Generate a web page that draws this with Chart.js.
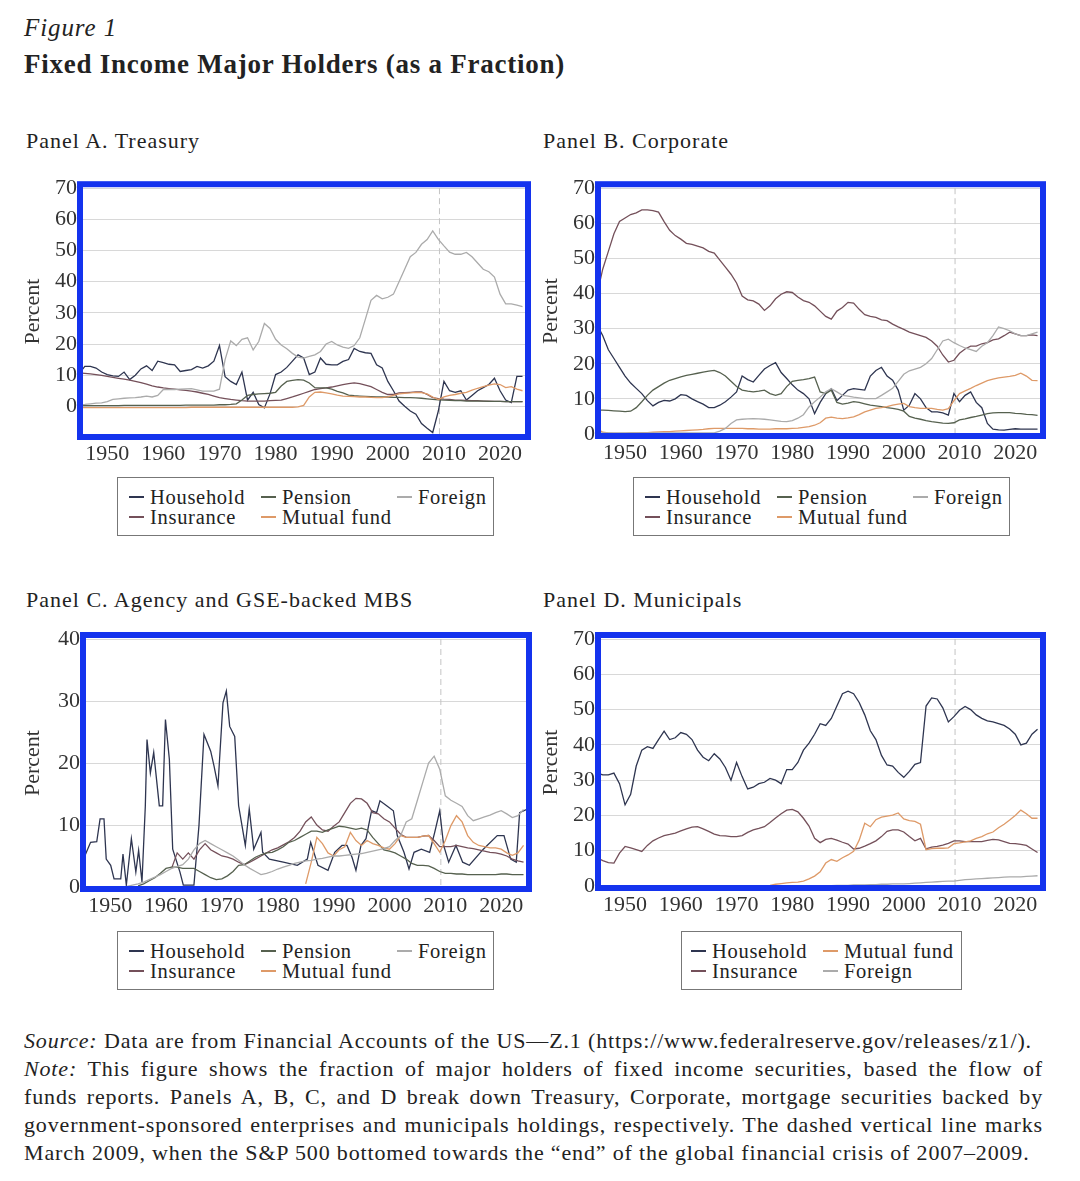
<!DOCTYPE html>
<html>
<head>
<meta charset="utf-8">
<title>Fixed Income Major Holders</title>
<script src="https://cdn.jsdelivr.net/npm/chart.js@4.4.1/dist/chart.umd.min.js"></script>
<style>
    html, body { margin: 0; padding: 0; background: #fff; }
    body {
        width: 1080px; height: 1181px; position: relative; overflow: hidden;
        font-family: 'Liberation Serif', 'DejaVu Serif', serif; color: #222;
    }
    .abs { position: absolute; white-space: nowrap; }
    .fig { left: 24px; top: 14px; font-style: italic; font-size: 25px; line-height: 28px; letter-spacing: 0.9px; }
    .ftitle { left: 24px; top: 49px; font-weight: bold; font-size: 27px; line-height: 30px; letter-spacing: 0.75px; }
    .ptitle { font-size: 22px; line-height: 26px; letter-spacing: 1px; }
    .legend {
        border: 1.5px solid #777; box-sizing: border-box; padding-top: 9px;
        display: grid; grid-auto-rows: 20px; font-size: 20.5px; line-height: 20px; letter-spacing: 0.7px;
    }
    .legend div { height: 20px; line-height: 20px; }
    .legend .sw { display: inline-block; width: 15px; height: 2px; margin-right: 6px; vertical-align: 6px; }
    .note { left: 24px; top: 1027px; width: 1019px; font-size: 22px; line-height: 28px; letter-spacing: 0.85px; }
    .note div { white-space: nowrap; }
    .note .j { text-align: justify; text-align-last: justify; }
</style>
</head>
<body>

<div class="abs fig">Figure 1</div>
<div class="abs ftitle">Fixed Income Major Holders (as a Fraction)</div>

<div class="abs ptitle" style="left:26px; top:128px;">Panel A. Treasury</div>
<div class="abs ptitle" style="left:543px; top:128px;">Panel B. Corporate</div>
<div class="abs ptitle" style="left:26px; top:587px;">Panel C. Agency and GSE-backed MBS</div>
<div class="abs ptitle" style="left:543px; top:587px;">Panel D. Municipals</div>

<canvas class="abs" id="chartA" width="540" height="300" style="left:0; top:170px;"></canvas>
<canvas class="abs" id="chartB" width="550" height="300" style="left:530px; top:170px;"></canvas>
<canvas class="abs" id="chartC" width="540" height="300" style="left:0; top:620px;"></canvas>
<canvas class="abs" id="chartD" width="550" height="300" style="left:530px; top:620px;"></canvas>

<div class="abs legend" id="legendA" style="left:117px; top:477px; width:377px; height:59px;"></div>
<div class="abs legend" id="legendB" style="left:633px; top:477px; width:377px; height:59px;"></div>
<div class="abs legend" id="legendC" style="left:117px; top:931px; width:377px; height:59px;"></div>
<div class="abs legend" id="legendD" style="left:681px; top:931px; width:281px; height:59px;"></div>

<div class="abs note">
    <div><i>Source:</i> Data are from Financial Accounts of the US—Z.1 (https://www.federalreserve.gov/releases/z1/).</div>
    <div class="j"><i>Note:</i> This figure shows the fraction of major holders of fixed income securities, based the flow of</div>
    <div class="j">funds reports. Panels A, B, C, and D break down Treasury, Corporate, mortgage securities backed by</div>
    <div class="j">government-sponsored enterprises and municipals holdings, respectively. The dashed vertical line marks</div>
    <div>March 2009, when the S&amp;P 500 bottomed towards the “end” of the global financial crisis of 2007–2009.</div>
</div>

<script>
// x axis
const yearTicks = [1950, 1960, 1970, 1980, 1990, 2000, 2010, 2020];
const crisisYear = 2009.2; // March 2009

// --- Panel A. Treasury (annual, 1945-2024) ---
const treasuryHousehold = [
    10.5, 12.8, 12.8, 12.3, 11,
    10.2, 9.8, 9.6, 11, 8.6, 10, 12, 13, 11.5, 14.5,
    14, 13.5, 13.3, 11.2, 11.5, 11.8, 12.8, 12.3, 13, 14.5,
    19.5, 9.5, 8, 7, 11, 2, 4.5, 0.6, -0.5, 4,
    10.2, 11, 12.5, 14.5, 16.5, 15.5, 10.2, 11, 15.5, 13.5,
    13.3, 13.3, 14.4, 15, 18.6, 17.6, 17.2, 17, 13.3, 12.3,
    8, 5, 1.7, 0, -1.5, -2.5, -5.5, -7, -8.4, -1.5,
    8, 5, 4.5, 5, 2, 3.5, 5, 6, 7, 9,
    5, 2, 1.2, 9.6, 9.6
];
const treasuryInsurance = [
    10.7, 10.6, 10.4, 10.2, 9.9,
    9.6, 9.3, 9, 8.7, 8.4, 8, 7.6, 7.1, 6.6, 6.2,
    5.9, 5.7, 5.5, 5.3, 5.1, 4.9, 4.6, 4.2, 3.8, 3.3,
    2.8, 2.5, 2.2, 2, 1.8, 1.7, 1.7, 1.7, 1.7, 1.8,
    1.9, 2, 2.5, 3, 3.6, 4.2, 4.8, 5.4, 5.7, 5.9,
    6.2, 6.6, 7, 7.3, 7.5, 7.3, 6.8, 6.3, 5.4, 4.5,
    3.8, 3.8, 4.3, 4.4, 4.5, 4.6, 4.6, 3.8, 2.8, 2.5,
    2.3, 2.2, 2, 2, 1.9, 1.8, 1.8, 1.7, 1.7, 1.6,
    1.6, 1.5, 1.5, 1.5, 1.5
];
const treasuryPension = [
    0.2, 0.2, 0.2, 0.2, 0.2,
    0.2, 0.2, 0.2, 0.3, 0.3, 0.3, 0.3, 0.3, 0.3, 0.3,
    0.3, 0.3, 0.3, 0.3, 0.4, 0.4, 0.4, 0.4, 0.4, 0.4,
    0.5, 0.5, 0.6, 0.8, 2, 3.5, 3.8, 4, 4.1, 4.2,
    4.5, 6.5, 8, 8.3, 8.6, 8.4, 7.5, 6, 5.9, 5.9,
    5.5, 4.8, 4.3, 3.6, 3.4, 3.3, 3.2, 3.1, 3, 3,
    3, 2.9, 2.9, 2.8, 2.8, 2.7, 2.6, 2.4, 2.2, 2.1,
    2, 1.9, 1.8, 1.8, 1.7, 1.7, 1.7, 1.7, 1.6, 1.6,
    1.6, 1.5, 1.5, 1.5, 1.5
];
const treasuryMutualFund = [
    -0.4, -0.4, -0.4, -0.4, -0.4,
    -0.4, -0.4, -0.4, -0.4, -0.4, -0.4, -0.4, -0.4, -0.4, -0.4,
    -0.4, -0.4, -0.4, -0.4, -0.4, -0.3, -0.3, -0.3, -0.3, -0.3,
    -0.3, -0.3, -0.3, -0.3, -0.3, -0.3, -0.3, -0.3, -0.3, -0.3,
    -0.3, -0.3, -0.3, -0.3, -0.2, 0.3, 3, 4.5, 4.6, 4.3,
    4, 3.6, 3.3, 3.2, 3.1, 3, 3, 2.9, 2.8, 2.8,
    3, 3.5, 4, 4.2, 4.3, 4.5, 4.4, 4, 3, 2.2,
    3, 3.5, 3.8, 4.2, 4.5, 5.2, 5.8, 6.3, 6.8, 7.2,
    7, 6, 6.3, 5.5, 5
];
const treasuryForeign = [
    0.5, 0.6, 0.8, 1, 1.1,
    1.5, 2.2, 2.4, 2.6, 2.7, 2.8, 3, 3.3, 3, 3.5,
    5.4, 5.4, 5.4, 5.5, 5.6, 5.7, 5.3, 4.9, 4.9, 4.9,
    5.5, 15, 21, 19.5, 21.5, 22, 18.1, 20.8, 26.6, 25,
    21.5, 19.7, 18.5, 17, 15.8, 15.5, 16, 16.5, 17.6, 20,
    20.8, 19.7, 19, 18.6, 19.5, 22, 28, 34, 35.6, 34.5,
    35, 36, 40, 44, 48, 49.4, 52, 53.5, 56.3, 53.6,
    51.5, 49.5, 48.8, 48.8, 49.4, 48, 46, 44, 43.2, 41.5,
    36, 32.9, 32.9, 32.5, 32
];

// --- Panel B. Corporate (annual, 1945-2024) ---
const corporateHousehold = [
    31, 28, 24, 21.5, 19,
    16.5, 14.5, 13, 11.5, 9.5, 8, 9, 9.6, 9.4, 10,
    11.2, 11, 10, 9.2, 8.5, 7.5, 7.5, 8.2, 9.2, 10.5,
    12, 16.5, 15.5, 14.8, 16.7, 18.5, 19.5, 20.3, 17.5, 15.8,
    14, 12.5, 11.5, 10, 5.8, 9, 11.5, 12.9, 9.5, 11,
    12.5, 12.9, 12.7, 12.5, 16.5, 18.1, 19, 16.5, 15.3, 12.5,
    6.8, 8.2, 11.5, 10, 7.5, 6.3, 6.3, 6, 5.4, 11.5,
    9.2, 11, 12, 9, 7.5, 3, 1.4, 1.2, 1.1, 1.3,
    1.5, 1.4, 1.4, 1.4, 1.4
];
const corporateInsurance = [
    40, 47, 52, 57, 60.5,
    61.5, 62.5, 63, 63.8, 63.8, 63.6, 63.2, 60.5, 58, 56.5,
    55.5, 54.3, 54, 53.5, 53, 52, 51.5, 49.5, 47.5, 45.5,
    43, 39.3, 38.2, 37.9, 37, 35.2, 36.5, 38.5, 39.8, 40.5,
    40.3, 39, 38, 37.5, 36.5, 35, 33.5, 32.7, 35, 36,
    37.5, 37.3, 35.5, 34, 33.5, 33.2, 32.5, 32.3, 31.3, 30.5,
    29.8, 29, 28.5, 28, 27.5, 26.5, 25, 22.5, 20.5, 21,
    23, 24.2, 25, 25, 25.7, 26, 26.8, 27.1, 28, 29,
    28.5, 28, 28, 28.2, 28
];
const corporatePension = [
    6.8, 6.8, 6.7, 6.6, 6.5,
    6.4, 6.5, 7.5, 9.2, 11, 12.5, 13.5, 14.5, 15.3, 15.8,
    16.3, 16.7, 17, 17.3, 17.6, 17.9, 18.1, 17.5, 16.5, 15,
    13.5, 12.5, 12.2, 12, 12.2, 12.5, 11.5, 11, 11.5, 13.5,
    15, 15.3, 15.5, 15.8, 16.2, 12, 11.5, 12.5, 9, 8.5,
    8.8, 9.2, 9, 8.6, 8.2, 8, 7.8, 7.5, 7.3, 7,
    6.5, 5, 4.5, 4.2, 3.8, 3.5, 3.3, 3.1, 3, 3.2,
    4, 4.3, 4.7, 5, 5.4, 5.8, 6, 6.1, 6.1, 6.1,
    5.9, 5.8, 5.6, 5.5, 5.3
];
const corporateMutualFund = [
    1.5, 0.5, 0.3, 0.2, 0.2,
    0.2, 0.3, 0.3, 0.4, 0.4, 0.5, 0.6, 0.7, 0.7, 0.8,
    0.9, 1, 1.1, 1.2, 1.3, 1.5, 1.6, 1.6, 1.6, 1.6,
    1.6, 1.6, 1.5, 1.5, 1.4, 1.4, 1.4, 1.5, 1.5, 1.5,
    1.6, 1.7, 1.9, 2.1, 2.5, 3.2, 4.5, 4.8, 4.5, 4.4,
    4.6, 4.9, 5.5, 6.3, 6.8, 7.3, 7.5, 7.8, 8.2, 8.5,
    8.7, 7.8, 7.5, 7.3, 7.3, 7.3, 7, 6.8, 7.2, 9.5,
    11.5, 12.3, 13, 13.8, 14.5, 15.2, 15.6, 16, 16.2, 16.4,
    16.7, 17.3, 16.5, 15.3, 15.2
];
const corporateForeign = [
    0.3, 0.3, 0.3, 0.3, 0.3,
    0.3, 0.3, 0.3, 0.3, 0.3, 0.3, 0.3, 0.3, 0.3, 0.3,
    0.3, 0.3, 0.3, 0.3, 0.3, 0.3, 0.3, 0.8, 1.6, 3,
    4, 4.2, 4.3, 4.4, 4.3, 4.2, 4, 3.8, 3.6, 3.5,
    3.8, 4.5, 5.5, 7.7, 9.2, 10.5, 12, 12.9, 12, 11,
    10.8, 10.5, 10.3, 10.1, 10.1, 10.1, 11, 12, 13, 15,
    17, 18, 18.5, 19, 20, 21.5, 24, 26.5, 27, 26,
    25.2, 24.5, 24, 23.5, 25, 26, 28, 30.5, 30, 29.4,
    28.5, 28, 28, 28.5, 29
];

// --- Panel C. Agency and GSE-backed MBS ---
// household is spiky, so it gets its own (irregular) dates
const mbsHouseholdYears = [
    1945.5, 1946.5, 1947.6, 1948.2, 1948.9, 1949.3, 1950.1, 1950.7, 1951.9, 1952.3,
    1952.9, 1953.8, 1954.6, 1955.1, 1955.7, 1956.3, 1956.6, 1957.2, 1957.8, 1958.8,
    1959.4, 1959.9, 1960.6, 1961.2, 1962.5, 1963.1, 1965.0, 1965.9, 1966.8, 1968.0,
    1968.6, 1969.3, 1970.2, 1970.8, 1971.4, 1972.3, 1973.0, 1974.2, 1974.9, 1975.7,
    1977.0, 1977.3, 1978.5, 1981.0, 1983.5, 1985.3, 1985.9, 1987.2, 1989.0, 1990.2,
    1991.5, 1992.4, 1993.3, 1994.0, 1994.9, 1995.8, 1996.8, 1997.7, 1998.3, 1999.5,
    2000.7, 2001.4, 2002.6, 2003.5, 2004.4, 2005.7, 2007.2, 2008.1, 2009.0, 2009.7,
    2010.6, 2011.9, 2013.1, 2014.3, 2016.8, 2019.3, 2020.5, 2021.7, 2022.7, 2023.3,
    2024.8
];
const mbsHousehold = [
    5.1, 7.2, 7.3, 11, 11, 4.5, 3.5, 1.3, 1.3, 5.3,
    0.3, 7.8, 2.4, 5.9, 0.8, 13.1, 23.8, 18.4, 21.7, 13.1,
    13.1, 27, 20.6, 6.1, 2.4, 0.3, 0.3, 9.9, 24.6, 21.9,
    19.5, 16.3, 29.7, 31.6, 25.9, 24.3, 13.1, 6.7, 12.6, 6.1,
    8.8, 5.6, 4.5, 4, 3.5, 4.5, 7.2, 3.5, 2.7, 5.6,
    6.7, 6.7, 4.8, 2.7, 6.7, 7.8, 12.3, 12, 13.9, 13.1,
    12.3, 8.3, 5.6, 2.9, 5.6, 6.1, 5.6, 8.8, 12.3, 6.7,
    4, 6.7, 4, 3.5, 6.1, 8.3, 8.3, 4.5, 4, 12,
    12.6
];
const mbsPensionStart = 1955;
const mbsPension = [
    0.2, 0.5, 1, 1.5, 2.2,
    3, 3.2, 3.2, 3, 3, 3, 2.5, 2, 1.5, 1.2,
    1.3, 1.8, 2.5, 3.5, 3.6, 4.2, 4.8, 5.2, 5.5, 5.6,
    6, 6.5, 7.2, 7.5, 8, 8.5, 9, 9, 8.8, 9.2,
    9.5, 9.8, 9.7, 9.5, 9.3, 9.5, 9.2, 8, 7, 6,
    5.8, 5.5, 5, 4.5, 3.8, 3.5, 3.5, 3.4, 3, 2.5,
    2.2, 2.2, 2.1, 2.1, 2, 2, 2, 2, 2, 2,
    2.1, 2.1, 2, 2, 2
];
const mbsInsuranceStart = 1961;
const mbsInsurance = [
    3, 5.5, 4.5, 5.5, 4.5, 6, 7, 6, 5.5,
    5, 4.8, 4.5, 4, 3.6, 4, 4.5, 5, 5.5, 6,
    6.3, 6.8, 7.3, 8, 9, 10.5, 11.3, 10, 9.2, 9,
    9.8, 10.5, 12, 13.5, 14.3, 14.2, 13.5, 12, 11.8, 11,
    10.5, 9.5, 8.5, 8, 8, 8, 8.2, 8.3, 7.5, 6.5,
    6.5, 6.5, 6.7, 6.5, 6.3, 6.2, 6, 5.8, 5.6, 5.5,
    5.3, 5, 4.5, 4.2, 4
];
const mbsMutualFundStart = 1985;
const mbsMutualFund = [
    0.5, 4, 8, 7, 5.5,
    5, 6, 6.5, 8.8, 7.5, 6.7, 7.5, 7, 6.7, 6.3,
    6.1, 7, 8.3, 8, 8, 8, 8.2, 8.3, 7, 5.6,
    7.5, 9.9, 11.5, 10.5, 8.3, 7.2, 6.7, 6.5, 6.3, 6.3,
    6.1, 5.5, 5.1, 5.5, 6.7
];
const mbsForeignStart = 1953;
const mbsForeign = [
    0.1, 0.3, 0.5, 0.8, 1.2, 1.6, 2,
    2.5, 3, 3.3, 3.6, 4.5, 6, 7, 7.5, 7, 6.5,
    6, 5.5, 5, 4.3, 3.6, 3, 2.5, 2, 2.2, 2.5,
    2.9, 3.2, 3.5, 3.8, 4, 4.2, 4.3, 4.5, 4.6, 4.8,
    5, 5, 5.1, 5.2, 5.3, 5.4, 5.6, 5.8, 6, 6.2,
    6.5, 7.5, 8.3, 10.5, 11, 14, 17, 20, 21.1, 19,
    14.7, 14, 13.5, 13, 11.5, 10.7, 11, 11.3, 11.6, 12,
    12.3, 11.8, 11.2, 11.5, 12.5
];

// --- Panel D. Municipals ---
const muniHousehold = [
    32, 31.5, 31.5, 32, 29,
    23, 26, 34, 38.5, 39.5, 39, 41.5, 43.9, 41.5, 42,
    43.5, 43, 41.5, 38.5, 36.5, 35.5, 37.5, 36, 33.6, 30,
    35, 31, 27.5, 28, 29, 29.4, 30.5, 30, 29, 33,
    33, 35, 38.5, 40.5, 43, 46, 45.5, 47.5, 51, 54.5,
    55.2, 54.5, 52, 48.5, 44, 41.5, 37, 34.3, 34, 32.2,
    30.8, 32.5, 34.5, 35, 51, 53.3, 53, 50.5, 46.5, 48,
    49.8, 50.9, 50, 48.5, 47.5, 46.8, 46.5, 46, 45.5, 44.5,
    43, 40, 40.5, 43, 44.4
];
const muniInsurance = [
    8, 7.2, 6.6, 6.5, 9.3,
    11.2, 10.8, 10.3, 9.8, 11.5, 12.8, 13.6, 14.3, 14.6, 15,
    15.6, 16.2, 16.7, 16.8, 16.2, 15.5, 14.7, 14.3, 14.2, 14,
    14, 14.3, 15.2, 15.9, 16.3, 16.8, 18, 19.3, 20.5, 21.5,
    21.7, 21, 19.2, 17, 13.5, 12.3, 13.2, 13.5, 13, 12.4,
    11.9, 10.5, 10.7, 11.3, 12, 12.8, 14, 15.5, 15.9, 15.9,
    15.3, 14, 12.8, 13.5, 10.5, 11, 11.2, 11.6, 12.1, 12.8,
    12.8, 12.6, 12.6, 12.6, 12.6, 12.9, 13.2, 13.1, 12.6, 12.1,
    12, 11.8, 11.5, 10.5, 9.5
];
const muniMutualFundStart = 1976;
const muniMutualFund = [
    0.2, 0.5, 0.7, 0.9,
    1, 1.1, 1.4, 2, 2.8, 4, 6.5, 7.5, 7, 8,
    8.8, 9.8, 13, 17.8, 16.8, 18.8, 19.5, 19.8, 20.1, 20.7,
    19, 18.5, 18.3, 17.5, 10.3, 10.6, 10.7, 10.7, 10.8, 12,
    12.2, 12.5, 12.8, 13.5, 14, 14.8, 15.3, 16.5, 17.5, 18.7,
    20, 21.5, 20.5, 19.2, 19.2
];
const muniForeignStart = 1985;
const muniForeign = [
    0.1, 0.1, 0.1, 0.2, 0.2,
    0.2, 0.3, 0.3, 0.3, 0.4, 0.4, 0.5, 0.5, 0.6, 0.6,
    0.6, 0.7, 0.8, 0.9, 1, 1.1, 1.2, 1.3, 1.4, 1.4,
    1.6, 1.8, 1.9, 2, 2.1, 2.2, 2.3, 2.4, 2.5, 2.6,
    2.6, 2.6, 2.7, 2.8, 2.9
];

const holderColors = {
    'Household': '#2e3550',
    'Insurance': '#74505a',
    'Pension': '#56614f',
    'Mutual fund': '#de9a68',
    'Foreign': '#ababab'
};

function annual(values, start = 1945) {
    return values.map((v, i) => ({ x: start + i, y: v }));
}

function dated(years, values) {
    return years.map((yr, i) => ({ x: yr, y: values[i] }));
}

// dashed line at March 2009 (drawn under the series)
const crisisLine = {
    id: 'crisisLine',
    beforeDatasetsDraw(chart) {
        const { ctx, chartArea } = chart;
        const x = chart.scales.x.getPixelForValue(crisisYear);
        ctx.save();
        ctx.strokeStyle = '#c4c4c4';
        ctx.lineWidth = 1;
        ctx.setLineDash([6, 4]);
        ctx.beginPath();
        ctx.moveTo(x, chartArea.top);
        ctx.lineTo(x, chartArea.bottom);
        ctx.stroke();
        ctx.restore();
    }
};

// the thick blue box round each plot
const blueFrame = {
    id: 'blueFrame',
    afterDraw(chart) {
        const { ctx, chartArea: a } = chart;
        ctx.save();
        ctx.strokeStyle = '#1433ee';
        ctx.lineWidth = 6;
        ctx.strokeRect(a.left - 2, a.top - 4, a.width + 3, a.height + 6);
        ctx.restore();
    }
};

const axisFont = { family: "'Liberation Serif', 'DejaVu Serif', serif", size: 22 };

function renderPanel(canvasId, p) {
    const ctx = document.getElementById(canvasId).getContext('2d');
    return new Chart(ctx, {
        type: 'line',
        data: {
            datasets: p.series.map(s => ({
                label: s.name,
                data: s.data,
                borderColor: holderColors[s.name],
                borderWidth: 1.3,
                pointRadius: 0,
                fill: false,
                tension: 0
            }))
        },
        options: {
            responsive: false,
            animation: false,
            layout: { padding: { left: p.padLeft, right: p.padRight, top: p.padTop, bottom: 0 } },
            plugins: { legend: { display: false }, tooltip: { enabled: false } },
            scales: {
                x: {
                    type: 'linear',
                    min: 1945.5,
                    max: 2024.8,
                    afterBuildTicks: s => { s.ticks = yearTicks.map(v => ({ value: v })); },
                    afterFit: s => { s.height = p.xHeight; },
                    ticks: { font: axisFont, color: '#333', padding: 2, maxRotation: 0, callback: v => String(v) },
                    grid: { drawOnChartArea: false, tickLength: 4, color: '#888' },
                    border: { color: '#888' }
                },
                y: {
                    min: p.yMin,
                    max: p.yMax,
                    afterBuildTicks: s => { s.ticks = p.yTicks.map(v => ({ value: v })); },
                    afterFit: s => { s.width = p.yWidth; },
                    ticks: { font: axisFont, color: '#333', padding: 5 },
                    grid: { color: '#d8d8d8', drawTicks: false },
                    border: { color: '#888' },
                    title: { display: true, text: 'Percent', font: axisFont, color: '#333' }
                }
            }
        },
        plugins: [crisisLine, blueFrame]
    });
}

function renderLegend(elId, names, columns, indent) {
    const el = document.getElementById(elId);
    el.style.gridTemplateColumns = columns;
    el.style.paddingLeft = indent + 'px';
    el.innerHTML = names.map(n =>
        `<div><span class="sw" style="background:${holderColors[n]}"></span>${n}</div>`
    ).join('');
}

const ticks70 = [0, 10, 20, 30, 40, 50, 60, 70];
const ticks40 = [0, 10, 20, 30, 40];

renderPanel('chartA', {
    yMin: -9.2, yMax: 70, yTicks: ticks70,
    padLeft: 16, yWidth: 66, padRight: 13, padTop: 16, xHeight: 35,
    series: [
        { name: 'Foreign', data: annual(treasuryForeign) },
        { name: 'Mutual fund', data: annual(treasuryMutualFund) },
        { name: 'Pension', data: annual(treasuryPension) },
        { name: 'Insurance', data: annual(treasuryInsurance) },
        { name: 'Household', data: annual(treasuryHousehold) }
    ]
});

renderPanel('chartB', {
    yMin: 0, yMax: 70, yTicks: ticks70,
    padLeft: 4, yWidth: 66, padRight: 38, padTop: 16, xHeight: 36,
    series: [
        { name: 'Foreign', data: annual(corporateForeign) },
        { name: 'Mutual fund', data: annual(corporateMutualFund) },
        { name: 'Pension', data: annual(corporatePension) },
        { name: 'Insurance', data: annual(corporateInsurance) },
        { name: 'Household', data: annual(corporateHousehold) }
    ]
});

renderPanel('chartC', {
    yMin: 0, yMax: 40, yTicks: ticks40,
    padLeft: 16, yWidth: 69, padRight: 12, padTop: 19, xHeight: 33,
    series: [
        { name: 'Foreign', data: annual(mbsForeign, mbsForeignStart) },
        { name: 'Mutual fund', data: annual(mbsMutualFund, mbsMutualFundStart) },
        { name: 'Pension', data: annual(mbsPension, mbsPensionStart) },
        { name: 'Insurance', data: annual(mbsInsurance, mbsInsuranceStart) },
        { name: 'Household', data: dated(mbsHouseholdYears, mbsHousehold) }
    ]
});

renderPanel('chartD', {
    yMin: 0, yMax: 70, yTicks: ticks70,
    padLeft: 4, yWidth: 66, padRight: 38, padTop: 19, xHeight: 34,
    series: [
        { name: 'Foreign', data: annual(muniForeign, muniForeignStart) },
        { name: 'Mutual fund', data: annual(muniMutualFund, muniMutualFundStart) },
        { name: 'Insurance', data: annual(muniInsurance) },
        { name: 'Household', data: annual(muniHousehold) }
    ]
});

const fiveHolders = ['Household', 'Pension', 'Foreign', 'Insurance', 'Mutual fund'];
renderLegend('legendA', fiveHolders, '132px 136px 1fr', 11);
renderLegend('legendB', fiveHolders, '132px 136px 1fr', 11);
renderLegend('legendC', fiveHolders, '132px 136px 1fr', 11);
renderLegend('legendD', ['Household', 'Mutual fund', 'Insurance', 'Foreign'], '132px 1fr', 9);
</script>
</body>
</html>
